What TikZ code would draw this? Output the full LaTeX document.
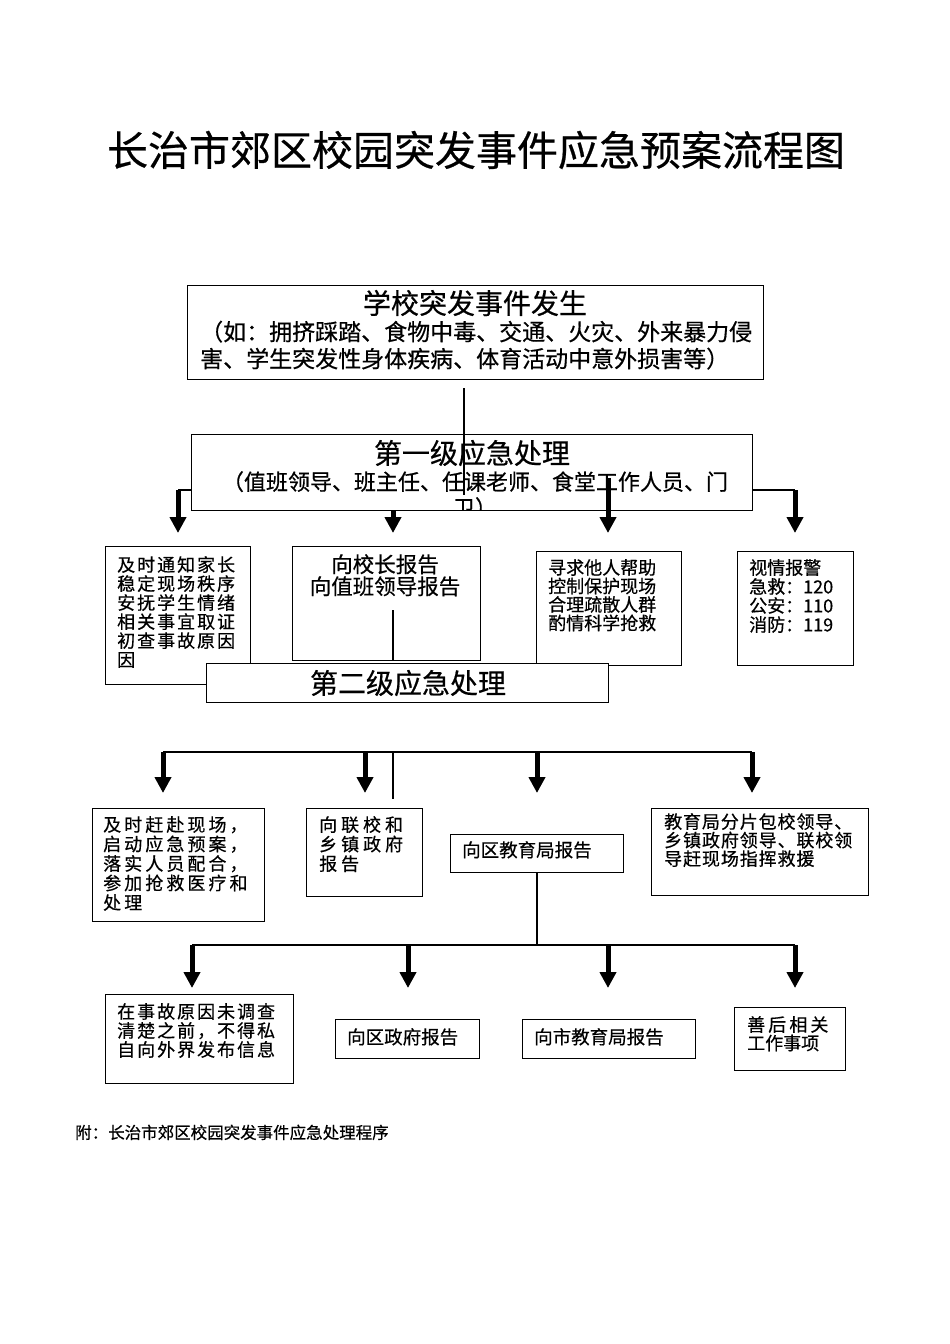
\documentclass[tikz,border=0pt]{standalone}
\usepackage{fontspec}
\setmainfont[FakeBold=0.5]{Noto Sans CJK SC}
\newfontfamily\wideS[LetterSpace=5,FakeBold=0.5]{Noto Sans CJK SC}
\newfontfamily\wideM[LetterSpace=11,FakeBold=0.5]{Noto Sans CJK SC}
\newfontfamily\wideL[LetterSpace=17,FakeBold=0.5]{Noto Sans CJK SC}
\newfontfamily\wideX[LetterSpace=22,FakeBold=0.5]{Noto Sans CJK SC}
\usetikzlibrary{calc,arrows.meta}
\newcommand{\fsz}[2]{\fontsize{#1}{#2}\selectfont}

\begin{document}
\begin{tikzpicture}[x=1pt,y=-1pt,
    box/.style={draw,line width=1.2pt,fill=white,anchor=north west,inner sep=0pt},
    txt/.style={anchor=north west,inner sep=0pt,align=left},
    ln/.style={line width=1.3pt},
    arr/.style={line width=5pt,-{Triangle[length=16pt,width=16pt]}}]
    \useasboundingbox (0,0) rectangle (950,1344);

    \node (title) at (476,150) {\fsz{41}{48}长治市郊区校园突发事件应急预案流程图};

    % event box
    \node[box,minimum width=576,minimum height=94] (event) at (187,285) {};
    \node (eventhd) at (475,303) {\fsz{28}{30}学校突发事件发生};
    \node[txt,font=\fsz{23}{27}] (eventtx) at (200,320.5)
        {（如：拥挤踩踏、食物中毒、交通、火灾、外来暴力侵\\害、学生突发性身体疾病、体育活动中意外损害等）};

    % first level
    \coordinate (bus1l) at (178,490);
    \coordinate (bus1r) at (795,490);
    \draw[ln] (bus1l)--(bus1r);
    \node[box,minimum width=561,minimum height=76] (lvl1) at (191,434) {};
    \node (lvl1hd) at (472,453) {\fsz{28}{30}第一级应急处理};
    \begin{scope}
        \clip ($(lvl1.north west)+(0,1)$) rectangle ($(lvl1.south east)+(0,-1)$);
        \node[anchor=north,inner sep=0pt,align=center,font=\fsz{22}{26}] (lvl1tx) at (475,471)
            {（值班领导、班主任、任课老师、食堂工作人员、门\\卫）};
    \end{scope}
    \coordinate (up0) at (464,388);
    \coordinate (dn0) at (464,495);
    \draw[ln] (up0)--(dn0);

    \coordinate (a1s) at (178,490); \coordinate (a1e) at (178,533);
    \coordinate (a2s) at (393,510); \coordinate (a2e) at (393,533);
    \coordinate (a3s) at (608,478); \coordinate (a3e) at (608,533);
    \coordinate (a4s) at (795,490); \coordinate (a4e) at (795,533);
    \draw[arr] (a1s)--(a1e);
    \draw[arr] (a2s)--(a2e);
    \draw[arr] (a3s)--(a3e);
    \draw[arr] (a4s)--(a4e);

    \node[box,minimum width=145,minimum height=138] (a1) at (105,546) {};
    \node[txt,font=\wideM\fsz{18}{19}] (a1tx) at (117,556)
        {及时通知家长\\稳定现场秩序\\安抚学生情绪\\相关事宜取证\\初查事故原因\\因};
    \node[box,minimum width=188,minimum height=114] (a2) at (292,546) {};
    \node[anchor=north,inner sep=0pt,align=center,font=\fsz{21.5}{22}] (a2tx) at (385,554)
        {向校长报告\\向值班领导报告};
    \coordinate (a2l) at (393,610);
    \draw[line width=1.8pt] (a2l)--(a2l |- a2.south);
    \node[box,minimum width=145,minimum height=114] (a3) at (536,551) {};
    \node[txt,font=\fsz{18}{18.5}] (a3tx) at (548,559)
        {寻求他人帮助\\控制保护现场\\合理疏散人群\\酌情科学抢救};
    \node[box,minimum width=116,minimum height=114] (a4) at (737,551) {};
    \node[txt,font=\fsz{18}{19}] (a4tx) at (749,559)
        {视情报警\\急救：120\\公安：110\\消防：119};

    % second level
    \node[box,minimum width=402,minimum height=39] (lvl2) at (206,663) {};
    \node (lvl2hd) at (408,683) {\fsz{28}{30}第二级应急处理};

    \coordinate (bus2l) at (163,752);
    \coordinate (bus2r) at (752,752);
    \draw[ln] (bus2l)--(bus2r);
    \coordinate (stray) at (393,799);
    \draw[ln] (stray |- bus2l)--(stray);
    \coordinate (b1e) at (163,793);
    \coordinate (b2s) at (365,752); \coordinate (b2e) at (365,793);
    \coordinate (b3s) at (537,752); \coordinate (b3e) at (537,793);
    \coordinate (b4e) at (752,793);
    \draw[arr] (bus2l)--(b1e);
    \draw[arr] (b2s)--(b2e);
    \draw[arr] (b3s)--(b3e);
    \draw[arr] (bus2r)--(b4e);

    \node[box,minimum width=172,minimum height=113] (b1) at (92,808) {};
    \node[txt,font=\wideL\fsz{18}{19.5}] (b1tx) at (103,816)
        {及时赶赴现场，\\启动应急预案，\\落实人员配合，\\参加抢救医疗和\\处理};
    \node[box,minimum width=116,minimum height=88] (b2) at (306,808) {};
    \node[txt,font=\wideX\fsz{18}{19.5}] (b2tx) at (319,816) {向联校和\\乡镇政府\\报告};
    \node[box,minimum width=173,minimum height=38] (b3) at (450,834) {};
    \node[txt,font=\fsz{18.5}{20}] (b3tx) at (462,841) {向区教育局报告};
    \node[box,minimum width=217,minimum height=87] (b4) at (651,808) {};
    \node[txt,font=\wideS\fsz{18}{18.5}] (b4tx) at (664,813)
        {教育局分片包校领导、\\乡镇政府领导、联校领\\导赶现场指挥救援};

    % third level
    \coordinate (bus3l) at (192,945);
    \coordinate (bus3r) at (795,945);
    \draw[ln] (b3.south)--(b3.south |- bus3l);
    \draw[ln] (bus3l)--(bus3r);
    \coordinate (c1e) at (192,988);
    \coordinate (c2s) at (408,945); \coordinate (c2e) at (408,988);
    \coordinate (c3s) at (608,945); \coordinate (c3e) at (608,988);
    \coordinate (c4e) at (795,988);
    \draw[arr] (bus3l)--(c1e);
    \draw[arr] (c2s)--(c2e);
    \draw[arr] (c3s)--(c3e);
    \draw[arr] (bus3r)--(c4e);

    \node[box,minimum width=188,minimum height=89] (c1) at (105,994) {};
    \node[txt,font=\wideM\fsz{18}{19}] (c1tx) at (117,1003)
        {在事故原因未调查\\清楚之前，不得私\\自向外界发布信息};
    \node[box,minimum width=144,minimum height=39] (c2) at (335,1019) {};
    \node[txt,font=\fsz{18.5}{20}] (c2tx) at (347,1028) {向区政府报告};
    \node[box,minimum width=173,minimum height=39] (c3) at (522,1019) {};
    \node[txt,font=\fsz{18.5}{20}] (c3tx) at (534,1028) {向市教育局报告};
    \node[box,minimum width=111,minimum height=63] (c4) at (734,1007) {};
    \node[txt,font=\fsz{18}{18.5}] (c4tx) at (747,1016) {{\wideL 善后相关}\\工作事项};

    \node[txt,font=\fsz{16.5}{18}] (note) at (75,1124.5) {附：长治市郊区校园突发事件应急处理程序};

\end{tikzpicture}
\end{document}
